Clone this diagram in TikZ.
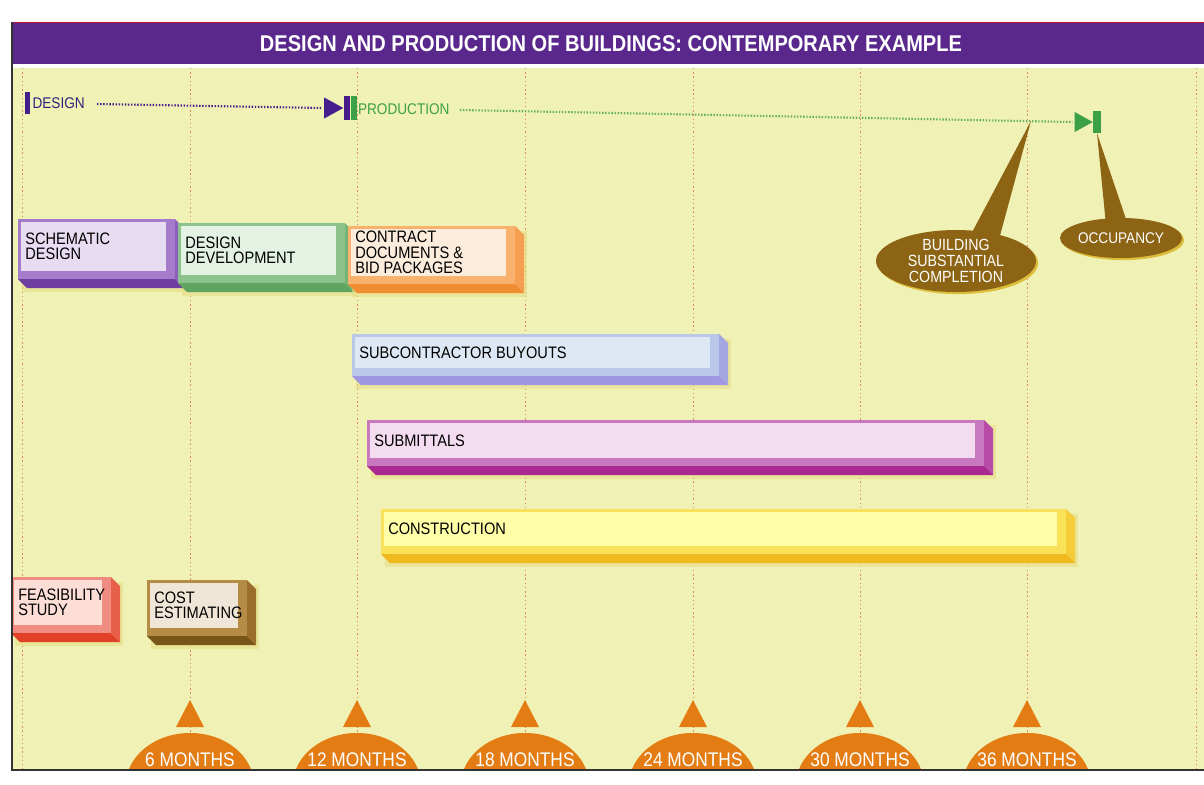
\documentclass[tikz,border=0pt]{standalone}
\usepackage{fontspec}
\setmainfont{Liberation Sans}[FakeStretch=0.88]
\usetikzlibrary{shapes.geometric, shadows}

\definecolor{panel}{HTML}{F0F1B4}
\definecolor{headpurple}{HTML}{5A288C}
\definecolor{gridred}{HTML}{E08A5E}
\definecolor{dpurple}{HTML}{461E8C}
\definecolor{dtext}{HTML}{2D237D}
\definecolor{pgreen}{HTML}{3CA046}
\definecolor{calloutbrown}{HTML}{8C6414}
\definecolor{calloutglow}{HTML}{DCBE3C}
\definecolor{monthorange}{HTML}{E47C14}
\definecolor{barshadow}{HTML}{E6DE86}
% bar colours: face, rim, side, dark
\definecolor{purpleface}{HTML}{E8DCF2}\definecolor{purplerim}{HTML}{A47CCB}
\definecolor{purpleside}{HTML}{8F5FBF}\definecolor{purpledark}{HTML}{6E3FA0}
\definecolor{greenface}{HTML}{E4F2E4}\definecolor{greenrim}{HTML}{8CC38C}
\definecolor{greenside}{HTML}{76B476}\definecolor{greendark}{HTML}{5FA55F}
\definecolor{orangeface}{HTML}{FCECDC}\definecolor{orangerim}{HTML}{F8B26E}
\definecolor{orangeside}{HTML}{F5A050}\definecolor{orangedark}{HTML}{F08C32}
\definecolor{blueface}{HTML}{DEE8F4}\definecolor{bluerim}{HTML}{B9C8E8}
\definecolor{blueside}{HTML}{A5A5E1}\definecolor{bluedark}{HTML}{A096E1}
\definecolor{magentaface}{HTML}{F4DCF0}\definecolor{magentarim}{HTML}{C878BE}
\definecolor{magentaside}{HTML}{B84AA8}\definecolor{magentadark}{HTML}{AA2891}
\definecolor{yellowface}{HTML}{FFFFA8}\definecolor{yellowrim}{HTML}{FAE15A}
\definecolor{yellowside}{HTML}{F5CC3A}\definecolor{yellowdark}{HTML}{F0B91E}
\definecolor{redface}{HTML}{FCDED7}\definecolor{redrim}{HTML}{F08C82}
\definecolor{redside}{HTML}{E8604A}\definecolor{reddark}{HTML}{E14128}
\definecolor{brownface}{HTML}{F0E6D7}\definecolor{brownrim}{HTML}{B48C46}
\definecolor{brownside}{HTML}{9A6E2A}\definecolor{browndark}{HTML}{785519}

\newcommand{\phasefont}{\fontsize{11.8}{11}\selectfont}

\tikzset{
  facebox/.style={rectangle, anchor=north west, inner sep=0pt, outer sep=0pt},
  phasetext/.style={anchor=west, align=left, inner sep=0pt, font=\phasefont, text=black},
  stage/.style={anchor=west, inner sep=0pt, font=\fontsize{11}{11}\selectfont},
  stagemark/.style={rectangle, inner sep=0pt, minimum width=0.15cm, minimum height=0.6cm},
  dotline/.style={line width=1.5pt, dash pattern=on 1pt off 1.2pt},
  gridline/.style={gridred, line width=0.6pt, dash pattern=on 1pt off 2pt},
  callout/.style={ellipse, fill=calloutbrown, text=white, align=center, inner sep=0pt,
                  drop shadow={shadow xshift=1.5pt, shadow yshift=-1.5pt, fill=calloutglow, opacity=1}},
  dome/.style={ellipse, fill=monthorange, inner sep=0pt, minimum width=3.2cm, minimum height=2.6cm},
  monthtext/.style={text=white, inner sep=0pt, font=\fontsize{14}{14}\selectfont},
}

% name, NW corner (px), width, height, colour, text
\newcommand{\phase}[6]{%
  \path (#2) node (#1) [facebox, minimum width=#3*0.025cm, minimum height=#4*0.025cm] {};
  \coordinate (#1-a) at ([shift={(-3,-3)}]#1.north west);
  \coordinate (#1-b) at ([shift={(9,8)}]#1.south east);
  \fill[barshadow, opacity=0.6] ([shift={(4,5)}]#1-a) rectangle ([shift={(12,13)}]#1-b);
  \fill[#5side] (#1-b |- #1-a) -- ++(9,9) -- ([shift={(9,9)}]#1-b) -- (#1-b) -- cycle;
  \fill[#5dark] (#1-a |- #1-b) -- ++(9,9) -- ([shift={(9,9)}]#1-b) -- (#1-b) -- cycle;
  \fill[#5rim] (#1-a) rectangle (#1-b);
  \fill[#5face] (#1.north west) rectangle (#1.south east);
  \node (#1-t) [phasetext] at ([shift={(4,0)}]#1.west) {#6};
}

\begin{document}
\begin{tikzpicture}[x=0.025cm, y=-0.025cm]
  \useasboundingbox (0,0) rectangle (1204,784);
  \fill[white] (0,0) rectangle (1204,784);

  % panel and header
  \fill[panel] (12,22) rectangle (1204,770);
  \fill[headpurple] (12,22) rectangle (1204,64);
  \draw[red!60!headpurple, line width=0.6pt] (12,22) -- (1204,22);
  \fill[white] (12,64) rectangle (1204,68);
  \node (title) [text=white, font=\fontsize{16.2}{16}\selectfont\bfseries] at (611,44)
    {DESIGN AND PRODUCTION OF BUILDINGS: CONTEMPORARY EXAMPLE};
  \foreach \gx in {22,190,357,525,693,860,1027,1196}
    \draw[gridline] (\gx,68) -- (\gx,770);

  % design / production line
  \node (dstart) [stagemark, fill=dpurple, minimum width=0.125cm, minimum height=0.55cm] at (27.5,103) {};
  \node (dlabel) [stage, text=dtext] at ([shift={(2,0)}]dstart.east) {DESIGN};
  \node (pbar1) [stagemark, fill=dpurple] at (346.5,108) {};
  \node (pbar2) [stagemark, fill=pgreen] at (353.5,108) {};
  \fill[dpurple] (pbar1.west) -- ++(-19,-10.5) -- ++(0,21) -- cycle;
  \node (plabel) [stage, text=pgreen] at ([shift={(1,1)}]pbar2.east) {PRODUCTION};
  \node (ebar) [stagemark, fill=pgreen, minimum width=0.2cm, minimum height=0.55cm] at (1097,122) {};
  \fill[pgreen] (ebar.west) -- ++(-18,-10) -- ++(0,20) -- cycle;
  \draw[dotline, dpurple] ([shift={(12,1)}]dlabel.east) -- ([shift={(-21,0)}]pbar1.west);
  \draw[dotline, pgreen!80!panel] ([shift={(10,1)}]plabel.east) -- ([shift={(-20,0)}]ebar.west);

  % phases
  \phase{schem}{21,222}{145}{49}{purple}{SCHEMATIC\\DESIGN}
  \phase{devel}{181,226}{155}{49}{green}{DESIGN\\DEVELOPMENT}
  \phase{contr}{351,229}{155}{47}{orange}{CONTRACT\\DOCUMENTS \&\\BID PACKAGES}
  \phase{buyout}{355,337}{355}{31}{blue}{SUBCONTRACTOR BUYOUTS}
  \phase{submit}{370,423}{605}{35}{magenta}{SUBMITTALS}
  \phase{constr}{384,512}{673}{34}{yellow}{CONSTRUCTION}
  \phase{feasib}{14,580}{88}{45}{red}{FEASIBILITY\\STUDY}
  \phase{cost}{150,583}{88}{45}{brown}{COST\\ESTIMATING}

  % callouts
  \coordinate (sctip) at (1031,121);
  \coordinate (completec) at (956,261);
  \coordinate (occupyc) at (1121,238);
  \fill[calloutbrown] (sctip) -- ([shift={(12,-21)}]completec) -- ([shift={(42,-18)}]completec) -- cycle;
  \fill[calloutbrown] (ebar.south) -- ([shift={(-15,-13)}]occupyc) -- ([shift={(7,-13)}]occupyc) -- cycle;
  \node (complete) [callout, minimum width=4cm, minimum height=1.55cm,
    font=\fontsize{11.5}{11.3}\selectfont] at (completec) {BUILDING\\SUBSTANTIAL\\COMPLETION};
  \node (occupy) [callout, minimum width=3.05cm, minimum height=1cm,
    font=\fontsize{11}{11}\selectfont] at (occupyc) {OCCUPANCY};

  % months
  \begin{scope}
    \clip (12,68) rectangle (1204,770);
    \foreach \m/\gx in {6/190, 12/357, 18/525, 24/693, 30/860, 36/1027} {
      \fill[monthorange] (\gx,700) -- (\gx-14,727) -- (\gx+14,727) -- cycle;
      \node (dome\m) [dome] at (\gx,785) {};
      \node (month\m) [monthtext] at (\gx,760) {\m{} MONTHS};
    }
  \end{scope}
  \draw[black!80, line width=0.8pt] (12,22) -- (12,770) -- (1204,770);
\end{tikzpicture}
\end{document}
